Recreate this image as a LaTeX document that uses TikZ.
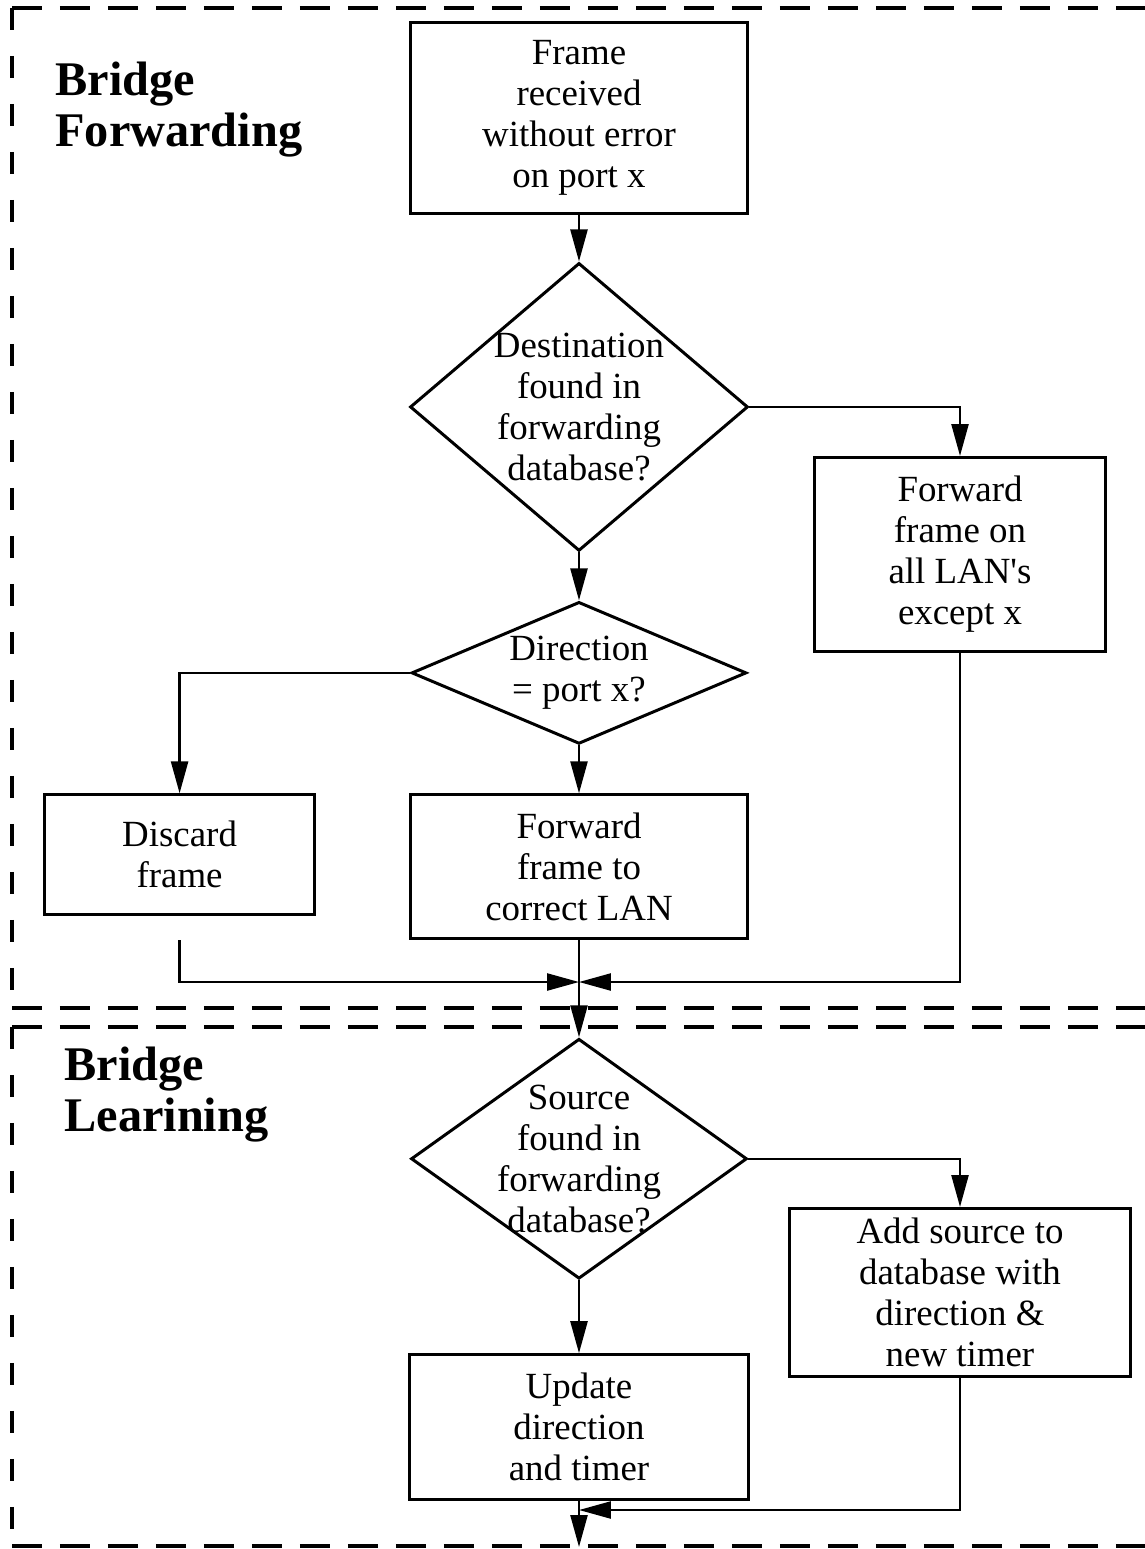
\documentclass[tikz,border=0pt]{standalone}
\usepackage{fontspec}
\setmainfont{Liberation Serif}
\usetikzlibrary{arrows.meta,positioning,calc,shapes.geometric}

\begin{document}
\begin{tikzpicture}[
    x=0.02cm, y=-0.02cm,
    node distance=9.6mm and 10mm,
    box/.style={draw,line width=1.7pt,align=center,inner sep=0pt,font=\fontsize{21}{23.3}\selectfont},
    decision/.style={draw,diamond,line width=1.7pt,align=center,inner sep=-5mm,font=\fontsize{21}{23.3}\selectfont},
    title/.style={anchor=north west,align=left,inner sep=0pt,font=\fontsize{27.5}{29}\selectfont\bfseries},
    arrow/.style={line width=1.4pt,-{Triangle[length=6.4mm,width=3.4mm]}},
    hdash/.style={line width=1.8pt,dash pattern=on 0.6cm off 0.36cm},
    vdash/.style={line width=1.8pt,dash pattern=on 0.44cm off 0.52cm}
]
    \useasboundingbox (0,0) rectangle (1145,1549);

    % dashed frames
    \draw[hdash] (12,8) -- (1160,8);
    \draw[vdash] (12,8) -- (12,1000);
    \draw[hdash] (12,1008) -- (1160,1008);
    \draw[hdash] (12,1027) -- (1160,1027);
    \draw[vdash] (12,1027) -- (12,1546);
    \draw[hdash] (12,1546) -- (1160,1546);

    \node[title] (fwdtitle) at (55,62) {Bridge\\Forwarding};
    \node[title] (lrntitle) at (64,1047) {Bridge\\Learining};

    % forwarding
    \node[box,minimum width=6.76cm,minimum height=3.84cm] (recv) at (579,118) {Frame\\received\\without error\\on port x};
    \node[decision,minimum width=6.76cm,minimum height=5.76cm,below=9.2mm of recv] (dest) {Destination\\found in\\forwarding\\database?};
    \node[decision,minimum width=6.7cm,minimum height=2.84cm,below=of dest] (dir) {Direction\\= port x?};
    \node[box,minimum width=6.74cm,minimum height=2.88cm,below=of dir] (fwdlan) {Forward\\frame to\\correct LAN};
    \node[box,minimum width=5.4cm,minimum height=2.4cm,left=18.6mm of fwdlan.north west,anchor=north east] (discard) {Discard\\frame};
    \node[box,minimum width=5.84cm,minimum height=3.88cm,anchor=north] (fwdall) at (960,456) {Forward\\frame on\\all LAN\textquotesingle s\\except x};

    % learning
    \node[decision,minimum width=6.72cm,minimum height=4.8cm,below=19.4mm of fwdlan] (src) {Source\\found in\\forwarding\\database?};
    \node[box,minimum width=6.82cm,minimum height=3.36cm,anchor=north] (addsrc) at (960,1207) {Add source to\\database with\\direction \&\\new timer};
    \node[box,minimum width=6.78cm,minimum height=2.9cm,below=14.6mm of src] (update) {Update\\direction\\and timer};

    \coordinate (join1) at (fwdlan.south |- 0,982);
    \coordinate (discardout) at (discard.south |- fwdlan.south);
    \coordinate (join2) at (update.south |- 0,1510);
    \coordinate (exit) at (update.south |- 0,1547);

    \draw[arrow] (recv) -- (dest);
    \draw[arrow] (dest) -- (dir);
    \draw[arrow] (dir) -- (fwdlan);
    \draw[arrow] (dest.east) -| (fwdall.north);
    \draw[arrow] (dir.west) -| (discard.north);
    \draw[arrow] (discardout) |- (join1);
    \draw[arrow] (fwdall.south) |- (join1);
    \draw[arrow] (fwdlan) -- (src);
    \draw[arrow] (src.east) -| (addsrc.north);
    \draw[arrow] (src) -- (update);
    \draw[arrow] (addsrc.south) |- (join2);
    \draw[arrow] (update) -- (exit);
\end{tikzpicture}
\end{document}
